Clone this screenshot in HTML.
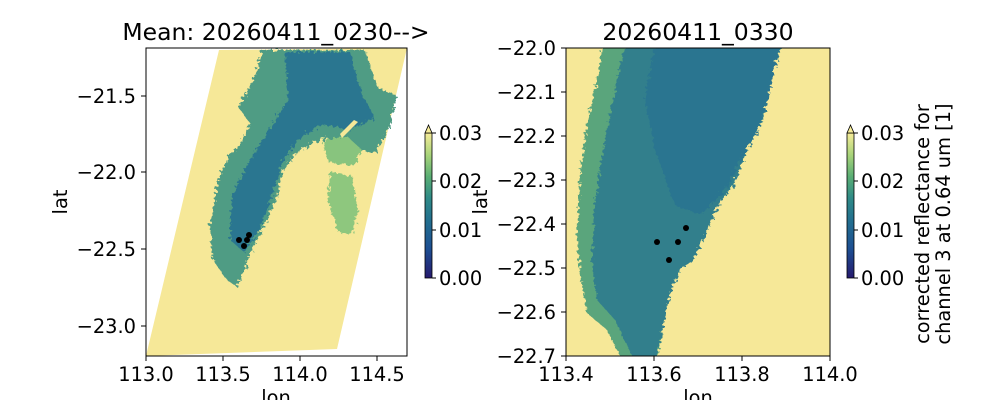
<!DOCTYPE html>
<html><head><meta charset="utf-8"><style>
body{margin:0;background:#fff;}
svg text{font-family:"DejaVu Sans","Liberation Sans",sans-serif;fill:#000;}
</style></head><body>
<svg width="1000" height="400" xmlns="http://www.w3.org/2000/svg">
<defs>
<linearGradient id="cb" x1="0" y1="1" x2="0" y2="0">
<stop offset="0" stop-color="#261a6e"/>
<stop offset="0.2" stop-color="#1d4f92"/>
<stop offset="0.4" stop-color="#23708f"/>
<stop offset="0.55" stop-color="#2f8a87"/>
<stop offset="0.7" stop-color="#5aae74"/>
<stop offset="0.85" stop-color="#a9d47a"/>
<stop offset="1" stop-color="#f6ec99"/>
</linearGradient>
<filter id="rough"><feTurbulence type="fractalNoise" baseFrequency="0.3" numOctaves="2" result="n"/><feDisplacementMap in="SourceGraphic" in2="n" scale="8"/></filter>
<clipPath id="cl"><rect x="146" y="48" width="261" height="308"/></clipPath>
<clipPath id="cr"><rect x="566" y="48" width="264" height="308"/></clipPath>
</defs>

<!-- LEFT PANEL -->
<g clip-path="url(#cl)">
<polygon points="219,50 407,48 337,349 146,356" fill="#f6e898"/>
<g filter="url(#rough)">
<polygon points="262,50 365,50 378,88 396,95 390,127 376,152 340,150 327,137 313,143 297,153 283,170 277,197 267,220 253,247 243,273 237,287 227,280 213,260 210,227 218,180 228,157 240,145 250,123 238,107 248,90 258,67" fill="#4f9c84"/>
<polygon points="285,52 350,52 362,95 375,118 350,130 322,124 300,138 283,160 272,195 260,230 244,252 230,240 232,195 250,160 268,130 288,100" fill="#2a7690"/>
<polygon points="330,172 352,176 358,210 352,235 338,232 328,200" fill="#8ec77e"/>
<polygon points="322,140 348,137 362,150 354,166 328,162" fill="#88c47e"/>
</g>
<polygon points="342,138 358,122 354,120 340,134" fill="#f6e898"/>
</g>
<rect x="146" y="48" width="261" height="308" fill="none" stroke="#000" stroke-width="1"/>
<g fill="#000"><circle cx="239" cy="240" r="3"/><circle cx="247" cy="240" r="3"/><circle cx="249" cy="235" r="3"/><circle cx="244" cy="246" r="3"/></g>
<g stroke="#000"><line x1="146" y1="356" x2="146" y2="361"/><line x1="223" y1="356" x2="223" y2="361"/><line x1="300" y1="356" x2="300" y2="361"/><line x1="377" y1="356" x2="377" y2="361"/>
<line x1="141" y1="96" x2="146" y2="96"/><line x1="141" y1="172" x2="146" y2="172"/><line x1="141" y1="249" x2="146" y2="249"/><line x1="141" y1="326" x2="146" y2="326"/></g>
<g font-size="19.4" text-anchor="middle"><text x="146" y="381">113.0</text><text x="223" y="381">113.5</text><text x="300" y="381">114.0</text><text x="377" y="381">114.5</text></g>
<g font-size="19.4" text-anchor="end"><text x="136" y="103">−21.5</text><text x="136" y="179">−22.0</text><text x="136" y="256">−22.5</text><text x="136" y="333">−23.0</text></g>
<text x="276" y="404" font-size="19.4" text-anchor="middle">lon</text>
<text transform="translate(67,202) rotate(-90)" font-size="19.4" text-anchor="middle">lat</text>
<text x="276" y="40" font-size="23.5" text-anchor="middle">Mean: 20260411_0230--&gt;</text>
<!-- left colorbar -->
<rect x="425" y="133" width="7" height="145" fill="url(#cb)" stroke="#000" stroke-width="0.8"/>
<polygon points="425,133 428.5,125 432,133" fill="#f6ec99" stroke="#000" stroke-width="0.8"/>
<g stroke="#000"><line x1="432" y1="133" x2="436" y2="133"/><line x1="432" y1="181" x2="436" y2="181"/><line x1="432" y1="230" x2="436" y2="230"/><line x1="432" y1="278" x2="436" y2="278"/></g>
<g font-size="19.4"><text x="439" y="140">0.03</text><text x="439" y="188">0.02</text><text x="439" y="237">0.01</text><text x="439" y="285">0.00</text></g>

<!-- RIGHT PANEL -->
<g clip-path="url(#cr)">
<rect x="566" y="48" width="264" height="308" fill="#f6e898"/>
<g filter="url(#rough)">
<polygon points="603,44 782,44 773,73 763,120 747,150 733,187 717,207 707,233 693,260 680,270 670,293 663,327 657,362 623,362 607,330 587,313 580,273 577,233 580,173 587,123 597,80" fill="#5aa57c"/>
<polygon points="625,44 782,44 773,73 763,120 747,150 733,187 717,207 707,233 693,260 680,270 670,293 663,327 655,362 635,362 615,320 597,300 592,260 595,200 605,140 615,90" fill="#317f8c"/>
<polygon points="655,44 780,44 770,90 758,130 740,160 725,190 700,215 675,205 655,150 645,100" fill="#2a7590"/>
</g>
</g>
<rect x="566" y="48" width="264" height="308" fill="none" stroke="#000" stroke-width="1"/>
<g fill="#000"><circle cx="657" cy="242" r="3"/><circle cx="678" cy="242" r="3"/><circle cx="686" cy="228" r="3"/><circle cx="669" cy="260" r="3"/></g>
<g stroke="#000"><line x1="566" y1="356" x2="566" y2="361"/><line x1="654" y1="356" x2="654" y2="361"/><line x1="742" y1="356" x2="742" y2="361"/><line x1="830" y1="356" x2="830" y2="361"/>
<line x1="561" y1="48" x2="566" y2="48"/><line x1="561" y1="92" x2="566" y2="92"/><line x1="561" y1="136" x2="566" y2="136"/><line x1="561" y1="180" x2="566" y2="180"/><line x1="561" y1="224" x2="566" y2="224"/><line x1="561" y1="268" x2="566" y2="268"/><line x1="561" y1="312" x2="566" y2="312"/><line x1="561" y1="356" x2="566" y2="356"/></g>
<g font-size="19.4" text-anchor="middle"><text x="566" y="381">113.4</text><text x="654" y="381">113.6</text><text x="742" y="381">113.8</text><text x="830" y="381">114.0</text></g>
<g font-size="19.4" text-anchor="end"><text x="556" y="55">−22.0</text><text x="556" y="99">−22.1</text><text x="556" y="143">−22.2</text><text x="556" y="187">−22.3</text><text x="556" y="231">−22.4</text><text x="556" y="275">−22.5</text><text x="556" y="319">−22.6</text><text x="556" y="363">−22.7</text></g>
<text x="698" y="404" font-size="19.4" text-anchor="middle">lon</text>
<text transform="translate(487,202) rotate(-90)" font-size="19.4" text-anchor="middle">lat</text>
<text x="698" y="40" font-size="23.5" text-anchor="middle">20260411_0330</text>
<!-- right colorbar -->
<rect x="847" y="133" width="7" height="145" fill="url(#cb)" stroke="#000" stroke-width="0.8"/>
<polygon points="847,133 850.5,125 854,133" fill="#f6ec99" stroke="#000" stroke-width="0.8"/>
<g stroke="#000"><line x1="854" y1="133" x2="858" y2="133"/><line x1="854" y1="181" x2="858" y2="181"/><line x1="854" y1="230" x2="858" y2="230"/><line x1="854" y1="278" x2="858" y2="278"/></g>
<g font-size="19.4"><text x="861" y="140">0.03</text><text x="861" y="188">0.02</text><text x="861" y="237">0.01</text><text x="861" y="285">0.00</text></g>
<text transform="translate(929,224) rotate(-90)" font-size="19.4" text-anchor="middle">corrected reflectance for</text>
<text transform="translate(950,224) rotate(-90)" font-size="19.4" text-anchor="middle">channel 3 at 0.64 um [1]</text>
</svg>
</body></html>
